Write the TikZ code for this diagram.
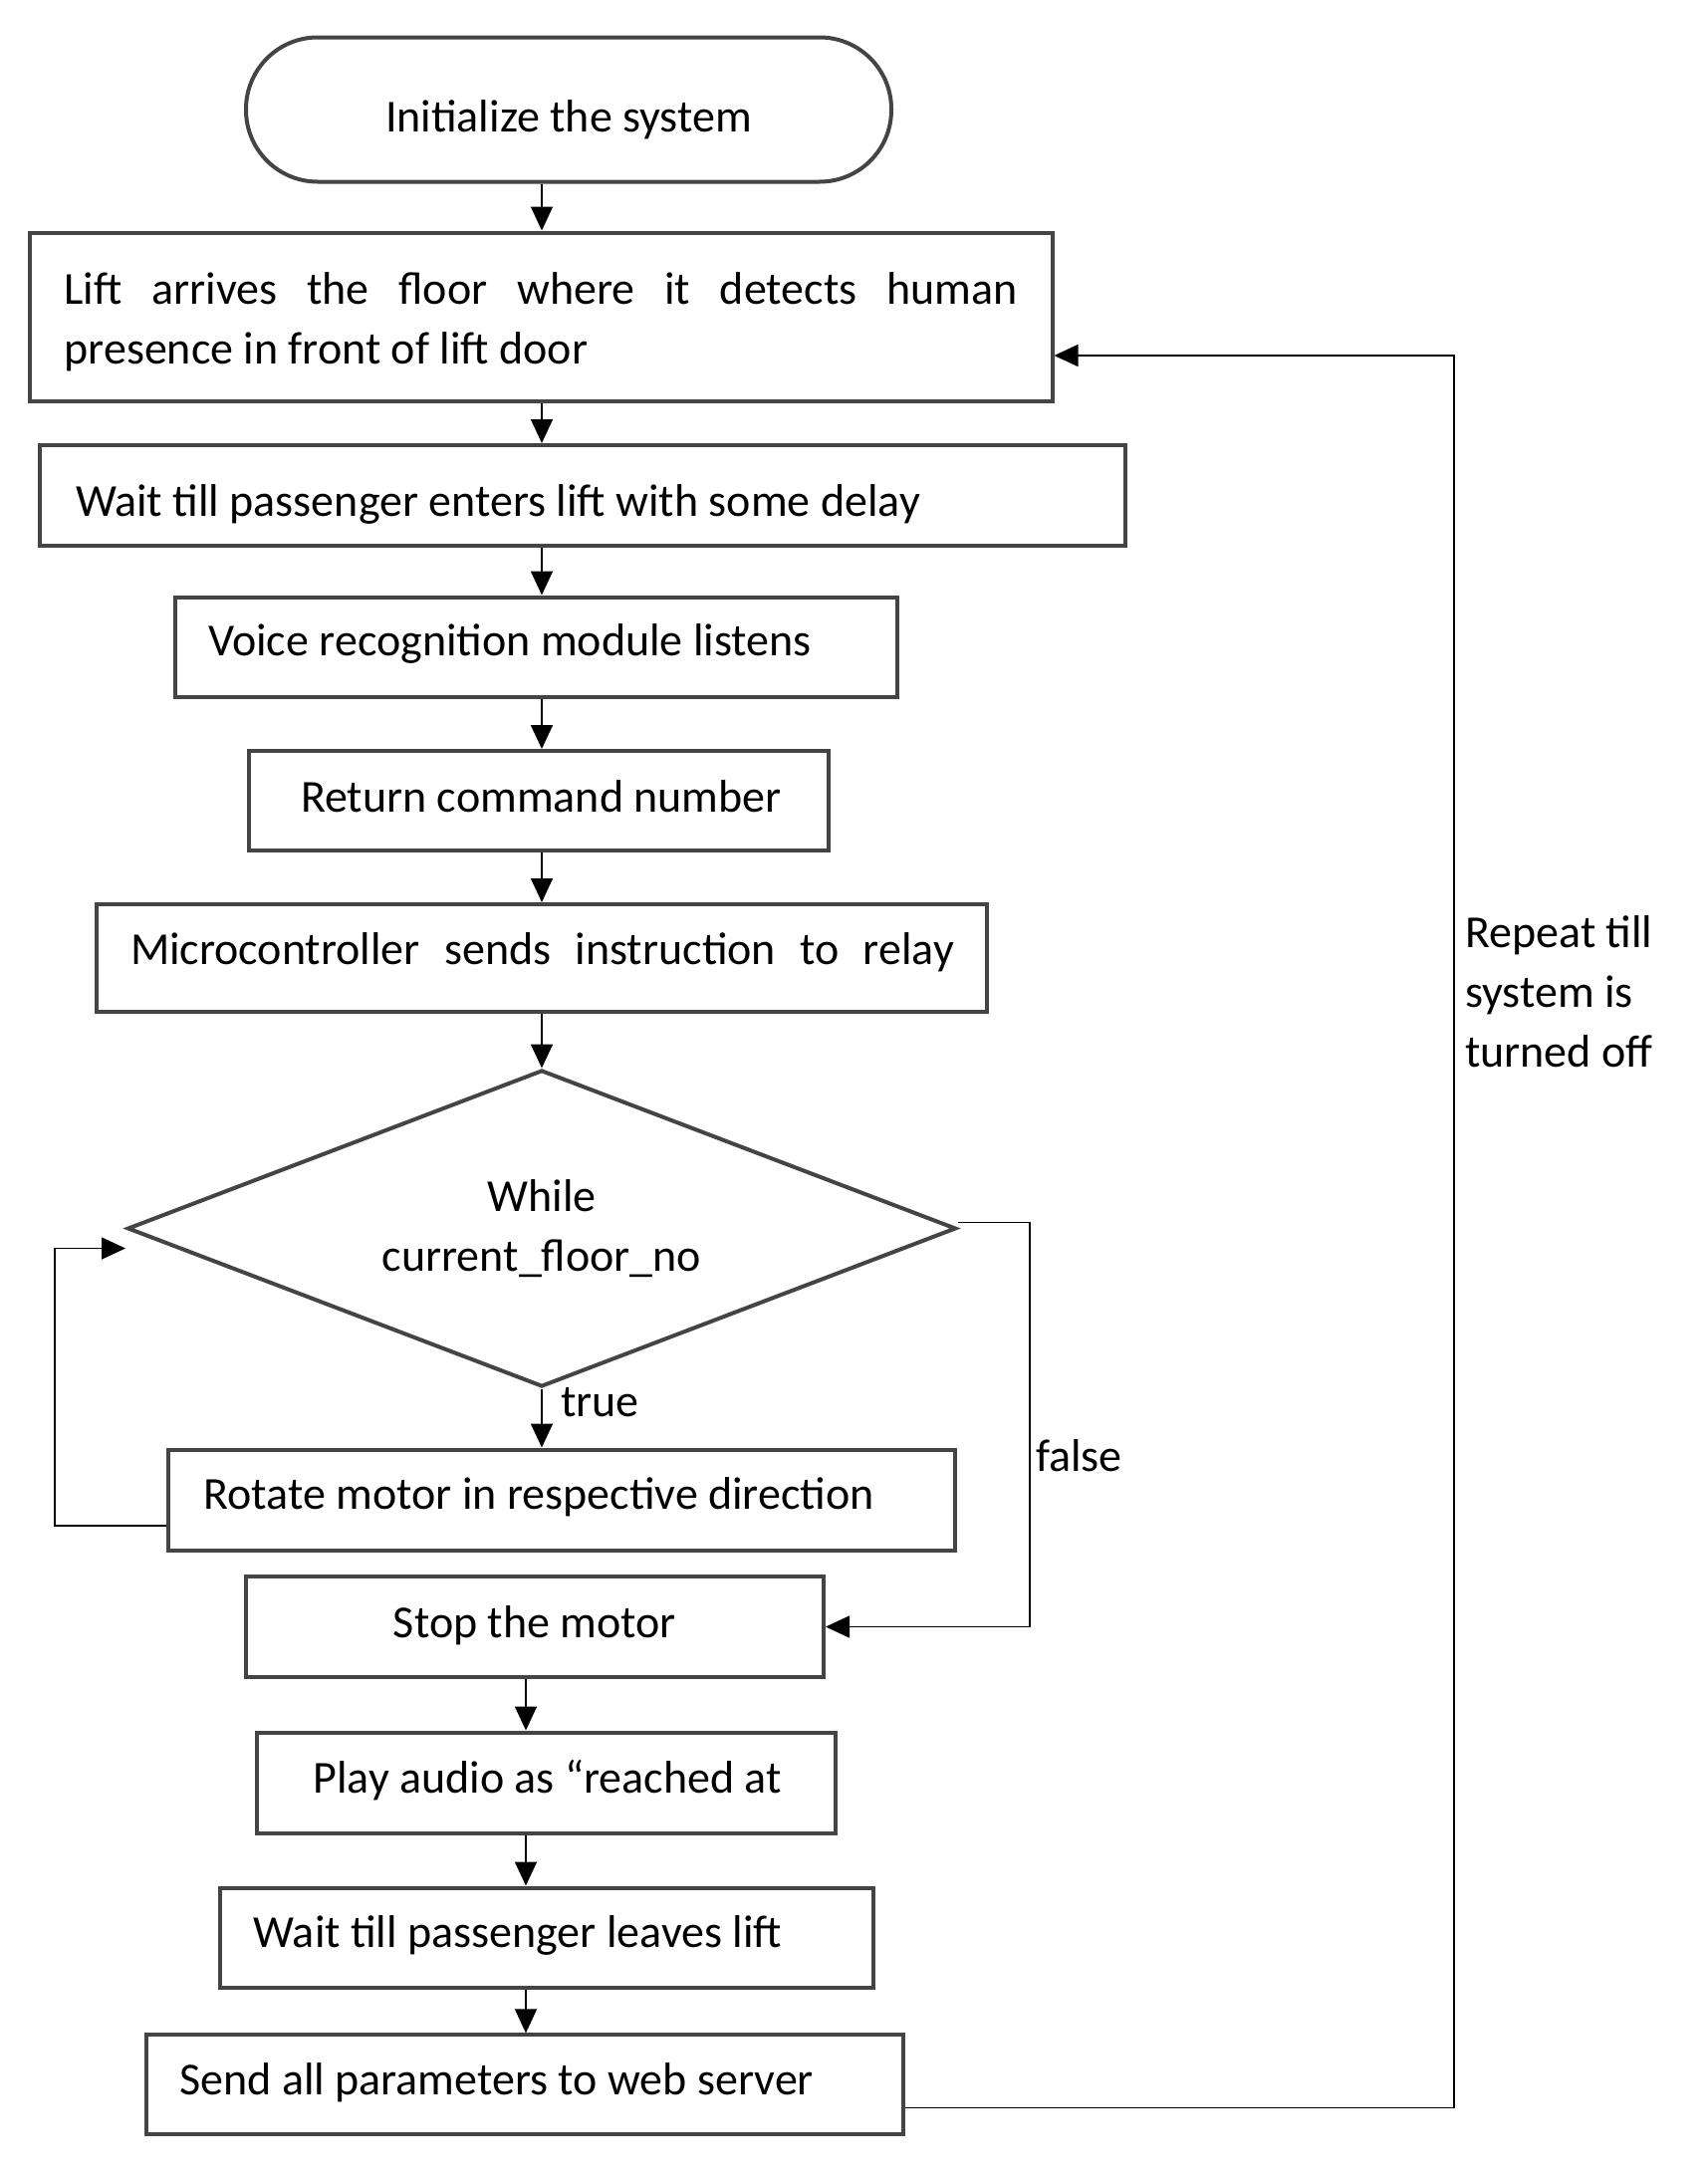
\documentclass[tikz,border=0pt]{standalone}
\usepackage{fontspec}
\setmainfont{Carlito}
\usetikzlibrary{arrows.meta,shapes.geometric}
\definecolor{bord}{HTML}{444444}
\newcommand\nsp{\spaceskip=0pt\xspaceskip=0pt\relax}
\begin{document}
\begin{tikzpicture}[x=1pt,y=-1pt,
  font=\fontsize{46}{60}\selectfont,
  box/.style={draw=bord,line width=4pt,rectangle,inner xsep=0pt,inner ysep=0pt,align=left},
  tb/.style={text height=#1,text depth=8pt},
  term/.style={draw=bord,line width=4pt,rectangle,rounded corners=72pt,inner sep=0pt,align=center},
  dec/.style={draw=bord,line width=4pt,diamond,aspect=2.6,inner sep=0pt,align=center},
  arr/.style={draw=black,line width=1.6pt,-{Triangle[length=24pt,width=22pt]}},
  lbl/.style={inner sep=0pt,align=left}
  ]
\useasboundingbox (0,0) rectangle (1714,2187);

% nodes
\node[term,tb=52pt,minimum width=648pt,minimum height=145pt] (t0) at (571,110) {\nsp Initialize the system};
\node[box,minimum width=1027pt,minimum height=169pt,text width=957pt,text height=34pt,text depth=60pt] (b1) at (543,318)
  {\nsp\makebox[957pt][s]{Lift arrives the floor where it detects human}\\\nsp presence in front of lift door};
\node[box,tb=50pt,minimum width=1090pt,minimum height=101pt,text width=1018pt] (b2) at (585,497.5)
  {\nsp\mbox{Wait till passenger enters lift with some delay}};
\node[box,tb=26pt,minimum width=725pt,minimum height=100pt,text width=658pt] (b3) at (538,649.5)
  {\nsp\mbox{Voice recognition module listens}};
\node[box,tb=30pt,minimum width=582pt,minimum height=100pt,text width=478pt] (b4) at (541,804)
  {\nsp\mbox{Return command number}};
\node[box,tb=20pt,minimum width=894pt,minimum height=108pt,text width=826pt] (b5) at (544,962)
  {\nsp\makebox[827pt][s]{Microcontroller sends instruction to relay}};
\node[dec,minimum width=832pt,minimum height=318pt] (d1) at (544,1233.5)
  {While\\current\_floor\_no};
\node[box,tb=27pt,minimum width=790pt,minimum height=101pt,text width=719pt] (b6) at (564,1506)
  {\nsp\mbox{Rotate motor in respective direction}};
\node[box,tb=29pt,minimum width=580pt,minimum height=101pt,align=center] (b7) at (537,1633.5)
  {\nsp Stop the motor};
\node[box,tb=29pt,minimum width=581pt,minimum height=101pt,text width=468pt] (b8) at (548.6,1790)
  {\nsp\mbox{Play audio as “reached at}};
\node[box,tb=27pt,minimum width=656pt,minimum height=100pt,text width=588pt] (b9) at (548.6,1945.5)
  {\nsp\mbox{Wait till passenger leaves lift}};
\node[box,tb=28pt,minimum width=760pt,minimum height=100pt,text width=694pt] (b10) at (527.3,2093.4)
  {\nsp\mbox{Send all parameters to web server}};

% labels
\node[lbl,anchor=base west] (ltrue) at (563,1422) {true};
\node[lbl,anchor=base west] (lfalse) at (1040,1477) {false};
\node[lbl,anchor=west] (lrep) at (1471,996) {\nsp Repeat till\\\nsp system is\\\nsp turned off};

% helper coordinates
\coordinate (cA) at (544,0);
\coordinate (cB) at (528,0);
\coordinate (fx) at (1034,0);
\coordinate (lx) at (55,0);
\coordinate (rx) at (1460,0);
\coordinate (ltip) at ([yshift=-20pt]d1.west);
\coordinate (r1) at ([yshift=-39pt]b1.east);

% connectors
\draw[arr] (t0.south -| cA) -- (b1.north -| cA);
\draw[arr] (b1.south -| cA) -- (b2.north -| cA);
\draw[arr] (b2.south -| cA) -- (b3.north -| cA);
\draw[arr] (b3.south -| cA) -- (b4.north -| cA);
\draw[arr] (b4.south -| cA) -- (b5.north -| cA);
\draw[arr] (b5.south -| cA) -- (d1.north -| cA);
\draw[arr] (d1.south) -- (b6.north -| d1.south);
\draw[arr] (b7.south -| cB) -- (b8.north -| cB);
\draw[arr] (b8.south -| cB) -- (b9.north -| cB);
\draw[arr] (b9.south -| cB) -- (b10.north -| cB);
\draw[arr] ([yshift=6pt]d1.east) -| (fx |- b7.east) -- (b7.east);
\draw[arr] ([yshift=-26pt]b6.west) -| (lx |- ltip) -- (ltip);
\draw[arr] ([yshift=-23pt]b10.east) -| (rx |- r1) -- (r1);
\end{tikzpicture}
\end{document}
